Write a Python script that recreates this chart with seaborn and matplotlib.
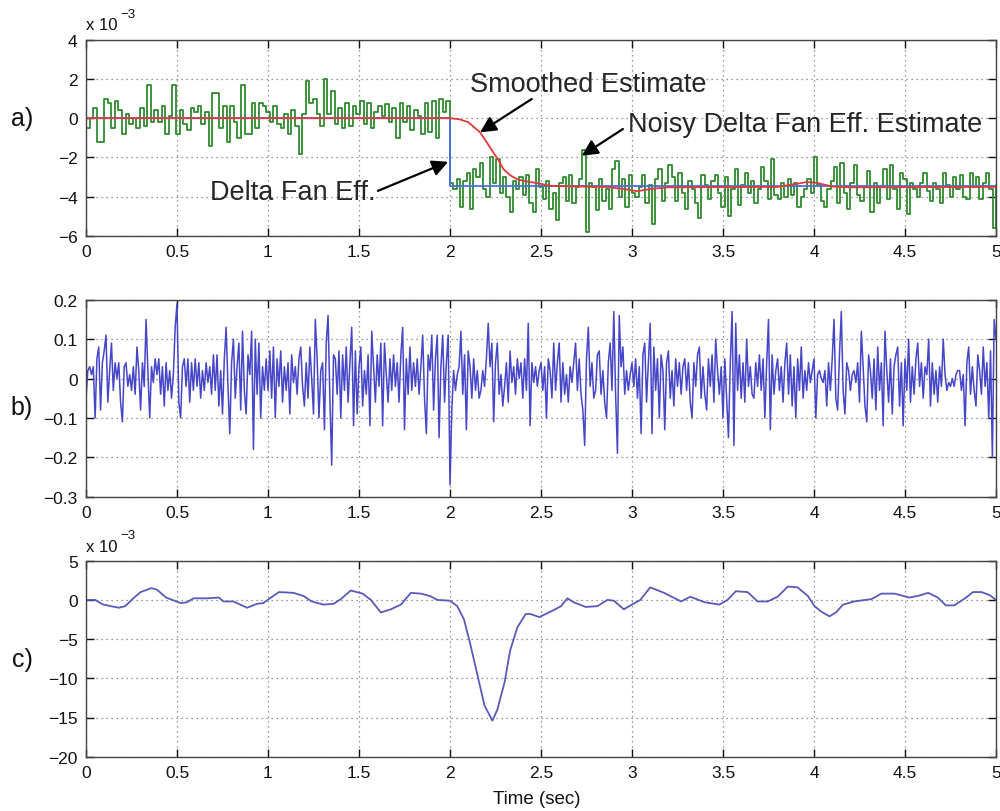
import numpy as np
import pandas as pd
import matplotlib
matplotlib.use("Agg")
import matplotlib.pyplot as plt
import seaborn as sns
from matplotlib.ticker import FuncFormatter, MultipleLocator

# ---------------- data (panel a values in units of 1e-3) ----------------
noisy_pre = [-0.5, 0.0, 0.5, -1.2, -1.2, 1.0, 0.8, -0.5, 0.9, 0.4, -0.8, 0.2, -0.3, 0.0, -0.5,
             0.5, -0.4, 1.7, -0.2, 0.4, -0.2, 0.6, -0.8, 0.1, 1.7, -0.8, 0.4, -0.3, -0.6, 0.5,
             0.3, 0.6, -0.3, 0.3, -1.4, 1.3, 1.3, -0.5, 0.6, -1.2, 0.6, -0.2, -1.0, 1.7, -0.8,
             -0.8, 0.8, -0.5, 0.8, 0.6, 0.3, -0.2, 0.6, -0.3, -0.5, 0.2, -0.8, 0.4, -0.4, -1.8,
             0.2, 1.9, 0.8, 1.0, 0.2, -0.4, 2.0, 0.2, 1.4, -0.3, 0.5, -0.5, 0.8, -0.4, 0.6,
             0.2, 0.9, -0.3, 0.8, -0.5, 0.3, 0.6, 0.1, 0.7, -0.2, 0.5, -1.0, 0.8, -0.2, 0.6,
             -0.6, 0.4, 0.1, -0.8, 0.8, -0.7, 0.9, -1.0, 1.0, 0.3, 0.9]
noisy_post = [-3.3, -3.6, -3.1, -4.5, -3.2, -2.8, -4.6, -2.6, -3.0, -2.3, -3.6, -4.0, -2.0, -3.3,
              -2.1, -3.8, -3.0, -4.0, -4.8, -3.2, -3.6, -3.0, -3.9, -2.9, -4.3, -4.8, -2.6, -3.5,
              -4.1, -3.2, -4.6, -3.8, -5.2, -3.3, -3.0, -4.2, -2.9, -4.3, -3.5, -3.1, -1.6, -5.8,
              -3.3, -3.5, -4.7, -3.1, -4.2, -3.6, -4.6, -2.6, -2.2, -4.0, -3.1, -4.5, -2.9, -3.8,
              -4.0, -3.5, -2.9, -4.3, -3.4, -5.4, -3.1, -2.6, -4.2, -3.3, -2.4,
              -3.0, -4.2, -2.8, -3.8, -4.6, -3.2, -3.6, -4.3, -5.1, -2.9, -3.4, -4.1, -3.2, -2.9,
              -3.8, -4.5, -3.0, -5.0, -3.6, -2.6, -4.4, -3.4, -2.8, -3.8, -3.2, -4.3, -3.6, -2.5,
              -3.2, -4.1, -2.1, -3.9, -4.1, -3.3, -4.0, -3.1, -3.9, -3.3, -4.5, -4.0, -3.6, -3.1,
              -3.8, -2.0, -3.4, -4.2, -4.5, -3.6, -3.2, -2.5, -4.3, -2.3, -3.8, -4.6, -3.3, -2.4,
              -3.9, -4.2, -3.5, -2.7, -4.8, -3.3, -4.3, -3.5, -2.6, -4.1, -2.4, -3.6, -4.6, -2.8,
              -3.1, -4.9, -3.3, -3.6, -4.0, -3.3, -2.8, -3.7, -4.2, -3.3, -3.6, -4.3, -2.8, -3.4,
              -4.0, -3.0, -3.6, -2.9, -4.0, -4.1, -2.8, -3.5, -3.0, -4.1, -3.3, -2.8, -3.6, -5.6,
              -3.4]

true_t = [0.0, 2.0, 5.0]
true_v = [0.0, -3.45, -3.45]

smooth_t = [0.0, 2.0, 2.05, 2.1, 2.165, 2.2, 2.238, 2.27, 2.293, 2.33, 2.367, 2.42, 2.476,
            2.55, 2.7, 2.86, 2.95, 3.03, 3.1, 3.2, 3.8, 3.9, 3.96, 4.02, 4.1, 4.2, 5.0]
smooth_v = [0.0, 0.0, -0.05, -0.2, -0.72, -1.2, -1.74, -2.2, -2.59, -2.9, -3.1, -3.22, -3.3,
            -3.44, -3.48, -3.5, -3.6, -3.72, -3.6, -3.52, -3.5, -3.35, -3.25, -3.3, -3.48,
            -3.52, -3.5]

# panel b values in units of 0.01, sampled every 0.01 s from 0 to 5 s
resid_b = [
    -5, 2, 3, 1, 3, -10, 5, 8, -8, 4, 7, 11, -6, 2, 9, -3, 4, 0, 4, -6,
    -11, 3, 4, -2, 1, -3, 3, -4, 8, 2, -8, 4, -2, 15, 2, -10, 3, -1, 5, 1,
    5, -4, 3, -7, 4, -3, 2, -5, 1, 13,
    19, -6, -10, 3, 5, -2, 5, -6, 4, -3, 5, -2, 4, -5, 2, -3, 4, -1, 3, -4,
    6, -3, 6, -7, 2, -9, 5, 13, -2, -14, 4, 10, -5, 3, 9, -8, 12, -3, -9, 6,
    1, 12, -18, 10, -4, 9, -10, 3, -3, 5,
    -3, 7, -5, 8, -10, 5, -2, 7, -6, 3, -3, 4, -9, 6, -1, 3, -4, 5, 8, -2,
    -7, 4, -5, 8, 0, -9, 15, 5, -10, 2, 4, -13, 9, 16, -5, -22, 6, 5, -4, 7,
    -10, 6, -3, 8, -6, 4, 13, -12, 7, -9,
    3, 8, -7, 2, -4, 6, -12, 12, 3, -6, 6, -2, 9, -12, 9, 1, -6, 5, -3, 6,
    -2, 4, -6, 6, 13, -13, 5, -4, 8, -3, 4, -2, 5, -4, 3, 11, -5, -14, 6, 2,
    11, -8, 5, 11, -15, 3, 11, -6, 4, 11,
    -27, -8, 2, -3, 1, 3, 12, -4, 6, -13, 7, 3, -5, 5, -3, 2, -5, -3, 2, -2,
    5, 14, 3, 9, -11, 4, 9, -4, 1, -7, -2, 4, -6, 7, -1, 3, -4, 5, 0, 4,
    -5, 5, -3, 14, -12, 4, -1, 3, -2, 2,
    4, -3, 3, -10, 5, 2, -5, 9, -3, 4, 9, -6, 4, -4, 1, -6, 3, -1, 4, 9,
    -3, 5, -4, -8, -17, 5, 13, -2, 4, -5, -3, 6, 7, -4, 2, -6, -10, 4, 9, -3,
    17, -4, -19, 16, 3, 8, -4, 2, -3, 1,
    4, -2, 5, -5, 3, -14, 6, 9, -6, 4, 14, -14, 8, -3, 5, -10, 6, 2, -13, 4,
    7, -5, 2, -7, 5, -2, 4, -4, 3, 5, -3, 4, -6, -10, 4, -2, 6, 8, -5, 3,
    -4, -8, 5, -2, 6, -6, 10, 2, -4, 3,
    -10, 5, -5, -15, 4, 17, -17, 14, -3, 6, -5, 4, -6, 10, -2, 3, -4, -5, 4, -2,
    6, -3, 5, -10, 4, 15, -13, 6, -4, 2, 5, -3, 3, -6, 4, 9, -4, 6, -7, 3,
    -10, 5, -3, 8, -5, 2, -3, 4, -1, 2,
    5, -10, 1, 2, 0, -1, 2, -7, 4, -3, 5, 15, -5, -8, 6, 17, -3, -9, 4, 2,
    -3, 1, 2, -1, 4, -6, 12, 3, -7, -11, 6, 2, -5, 5, -8, 8, -3, 4, -12, 12,
    2, -6, 5, -9, 3, 6, 8, -7, 4, -12,
    5, -3, 10, -6, 3, -4, 5, 9, -2, 4, -5, 3, 1, 10, -7, 4, -4, 2, -6, 3,
    -2, 10, 1, -3, -1, -2, 0, -2, 1, 2, 2, -3, 1, -12, 4, 8, -4, 3, -3, -7,
    6, 2, -4, 8, -2, 4, -10, 7, -20, 15, 10]

# panel c values in units of 1e-3
filt_t = [0.0, 0.05, 0.095, 0.18, 0.215, 0.26, 0.3, 0.36, 0.39, 0.44, 0.52, 0.555, 0.59,
          0.665, 0.73, 0.755, 0.81, 0.885, 0.94, 0.975, 1.01, 1.06, 1.14, 1.195, 1.24, 1.305,
          1.36, 1.40, 1.455, 1.52, 1.565, 1.62, 1.675, 1.73, 1.785, 1.84, 1.89, 1.93, 2.0,
          2.04, 2.077, 2.11, 2.15, 2.19, 2.233, 2.26, 2.30, 2.33, 2.37, 2.416, 2.443, 2.49,
          2.553, 2.61, 2.645, 2.68, 2.745, 2.81, 2.865, 2.90, 2.955, 3.0, 3.046, 3.10, 3.176,
          3.21, 3.27, 3.32, 3.40, 3.48, 3.525, 3.57, 3.635, 3.69, 3.745, 3.80, 3.856, 3.91,
          3.966, 4.003, 4.04, 4.085, 4.12, 4.16, 4.22, 4.315, 4.37, 4.443, 4.525, 4.57, 4.627,
          4.68, 4.725, 4.77, 4.83, 4.874, 4.92, 4.966, 5.0]
filt_v = [0.0, 0.0, -0.6, -1.0, -0.8, 0.2, 1.0, 1.5, 1.3, 0.3, -0.4, -0.3, 0.2,
          0.2, 0.3, -0.2, -0.2, -1.0, -0.5, -0.4, 0.2, 1.0, 0.9, 0.5, -0.2, -0.6,
          -0.5, 0.1, 1.2, 0.8, 0.0, -1.6, -1.2, -0.6, 0.9, 0.8, 0.5, 0.0, -0.1,
          -0.8, -2.5, -5.5, -9.5, -13.5, -15.4, -14.0, -10.5, -6.5, -3.5, -1.8, -1.8, -2.2,
          -1.5, -0.8, 0.2, -0.3, -0.9, -0.8, 0.0, -0.1, -1.2, -0.6, 0.0, 1.6, 0.9,
          0.5, -0.2, 0.4, -0.3, -0.6, 0.0, 1.1, 1.0, -0.2, -0.2, 0.4, 1.7, 1.6,
          0.5, -0.8, -1.5, -2.1, -1.6, -0.6, -0.2, 0.1, 0.8, 0.8, 0.3, 0.5, 0.9,
          0.3, -0.7, -0.7, 0.2, 1.0, 1.0, 0.6, 0.0]

x_ticks = [0, 0.5, 1, 1.5, 2, 2.5, 3, 3.5, 4, 4.5, 5]

# ---------------- figure ----------------
sns.set_style("ticks")
plt.rcParams["font.family"] = ["Liberation Sans", "DejaVu Sans"]
plt.rcParams["axes.unicode_minus"] = True

W, H = 1000, 812
fig = plt.figure(figsize=(W / 100, H / 100), dpi=100)


def px_axes(top, bottom, left=86, right=996):
    return fig.add_axes([left / W, 1 - bottom / H, (right - left) / W, (bottom - top) / H])


fmt = FuncFormatter(lambda v, p: ("%g" % round(v, 6)).replace("-", "\u2212"))


def style(ax, ylim, ystep):
    ax.set_xlim(0, 5)
    ax.set_ylim(*ylim)
    ax.set_xticks(x_ticks)
    ax.yaxis.set_major_locator(MultipleLocator(ystep))
    ax.xaxis.set_major_formatter(fmt)
    ax.yaxis.set_major_formatter(fmt)
    ax.grid(True, linestyle=(0, (1, 3)), color="#777777", linewidth=0.9)
    ax.tick_params(direction="in", length=6, width=1, top=True, right=True,
                   labelsize=12.5, colors="#111111", pad=6)
    for s in ax.spines.values():
        s.set_color("#444444")
        s.set_linewidth(1.0)
    ax.set_xlabel("")
    ax.set_ylabel("")


# panel a
ax1 = px_axes(40.7, 237)
t_pre = np.linspace(0, 2, len(noisy_pre), endpoint=False)
t_post = np.linspace(2, 5, len(noisy_post))
df_noisy = pd.DataFrame({"t": np.concatenate([t_pre, t_post]),
                         "v": np.array(noisy_pre + noisy_post)})
sns.lineplot(data=df_noisy, x="t", y="v", ax=ax1, color="#2f8a2f", linewidth=1.3,
             estimator=None, drawstyle="steps-post")
sns.lineplot(x=true_t, y=true_v, ax=ax1, color="#4a6ee0", linewidth=1.3,
             estimator=None, drawstyle="steps-post")
sns.lineplot(x=smooth_t, y=smooth_v, ax=ax1, color="#e03a3a", linewidth=1.3, estimator=None)
style(ax1, (-6, 4), 2)

ann_fs = 19.5
arrow = dict(arrowstyle="-|>", color="black", lw=1.6, mutation_scale=24, shrinkA=0, shrinkB=0)
ax1.text(2.11, 1.74, "Smoothed Estimate", fontsize=ann_fs, va="center", ha="left")
ax1.annotate("", xy=(2.165, -0.72), xytext=(2.449, 0.98), arrowprops=arrow)
ax1.text(2.978, -0.30, "Noisy Delta Fan Eff. Estimate", fontsize=ann_fs, va="center", ha="left")
ax1.annotate("", xy=(2.724, -1.91), xytext=(2.95, -0.55), arrowprops=arrow)
ax1.text(1.593, -3.77, "Delta Fan Eff.", fontsize=ann_fs, va="center", ha="right")
ax1.annotate("", xy=(1.99, -2.22), xytext=(1.604, -3.70), arrowprops=arrow)

# panel b
ax2 = px_axes(300.7, 497.7)
t_b = np.linspace(0, 5, len(resid_b))
sns.lineplot(x=t_b, y=np.array(resid_b) / 100.0, ax=ax2, color="#4646c8", linewidth=1.1,
             estimator=None)
style(ax2, (-0.3, 0.2), 0.1)

# panel c
ax3 = px_axes(561.7, 757.7)
sns.lineplot(x=filt_t, y=filt_v, ax=ax3, color="#5a5ab8", linewidth=1.3, estimator=None)
style(ax3, (-20, 5), 5)

# exponent labels
for ybase, ysup in [(26, 15), (547.5, 536)]:
    fig.text(86 / W, 1 - ybase / H, "x 10", fontsize=12, va="center", ha="left", color="#111111")
    fig.text(120 / W, 1 - ysup / H, "\u22123", fontsize=9.5, va="center", ha="left", color="#111111")

# panel letters
for lab, yc in [("a)", 119), ("b)", 408), ("c)", 660)]:
    fig.text(22 / W, 1 - yc / H, lab, fontsize=18, va="center", ha="center", color="#111111")

fig.text(537 / W, 1 - 800 / H, "Time (sec)", fontsize=13.5, va="center", ha="center",
         color="#111111")

fig.savefig("out.png", dpi=100)
